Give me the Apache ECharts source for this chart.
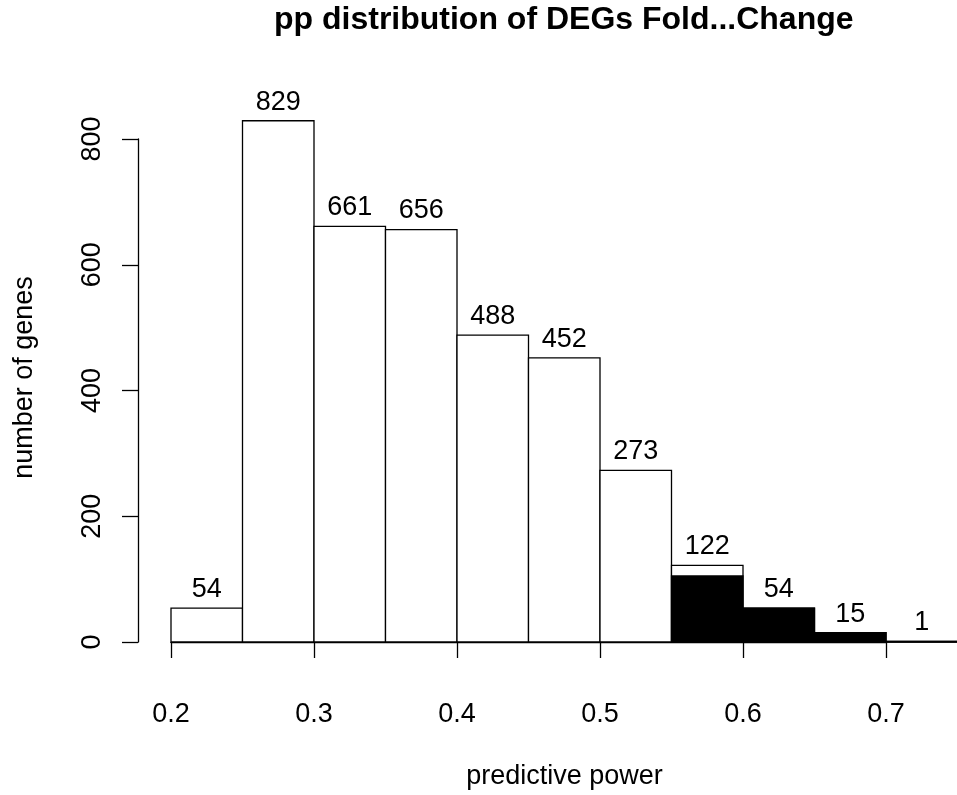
<!DOCTYPE html>
<html>
<head>
<meta charset="utf-8">
<script src="https://cdn.jsdelivr.net/npm/echarts@6/dist/echarts.min.js"></script>
<style>
  html, body { margin: 0; padding: 0; background: #fff; }
  #chart { width: 957px; height: 795px; }
</style>
</head>
<body>
<div id="chart"></div>
<script>
// histogram bins (left edges), width 0.05
const binStart = [0.2, 0.25, 0.3, 0.35, 0.4, 0.45, 0.5, 0.55, 0.6, 0.65, 0.7];
const binWidth = 0.05;
// all genes per bin
const counts = [54, 829, 661, 656, 488, 452, 273, 122, 54, 15, 1];
// filled (black) part per bin
const filled = [0, 0, 0, 0, 0, 0, 0, 105, 54, 15, 1];
const xTicks = [0.2, 0.3, 0.4, 0.5, 0.6, 0.7];
const yTicks = [0, 200, 400, 600, 800];

const FONT = '"Liberation Sans", Arial, Helvetica, sans-serif';
const FS = 27;

const chart = echarts.init(document.getElementById('chart'), null, { renderer: 'canvas' });

const rows = binStart.map((x, i) => [x, x + binWidth, counts[i], filled[i]]);

function renderBin(params, api) {
  const x0 = api.value(0), x1 = api.value(1);
  const total = api.value(2), black = api.value(3);
  const p0 = api.coord([x0, 0]);
  const pt = api.coord([x1, total]);
  const pb = api.coord([x1, black]);
  const children = [{
    type: 'rect',
    shape: { x: p0[0], y: pt[1], width: pt[0] - p0[0], height: p0[1] - pt[1] },
    style: { fill: '#fff', stroke: '#000', lineWidth: 1.3 }
  }];
  if (black > 0) {
    children.push({
      type: 'rect',
      shape: { x: p0[0], y: pb[1], width: pb[0] - p0[0], height: p0[1] - pb[1] },
      style: { fill: '#000', stroke: '#000', lineWidth: 1.3 }
    });
  }
  children.push({
    type: 'text',
    x: (p0[0] + pt[0]) / 2,
    y: pt[1] - 5,
    style: {
      text: String(total), fill: '#000', font: FS + 'px ' + FONT,
      align: 'center', verticalAlign: 'bottom'
    }
  });
  return { type: 'group', children };
}

chart.setOption({
  animation: false,
  backgroundColor: '#fff',
  title: {
    text: 'pp distribution of DEGs Fold...Change',
    left: 274,
    top: 4,
    padding: 0,
    textStyle: { fontFamily: FONT, fontSize: 32, fontWeight: 'bold', color: '#000' }
  },
  grid: { left: 171, right: 71, top: 139, bottom: 153 },
  xAxis: {
    type: 'value',
    min: xTicks[0], max: xTicks[xTicks.length - 1], interval: 0.1,
    offset: 21,
    name: 'predictive power',
    nameLocation: 'middle',
    nameGap: 100,
    nameTextStyle: { fontFamily: FONT, fontSize: FS, color: '#000', padding: [0, 0, 0, 72] },
    axisLine: { lineStyle: { color: '#000', width: 1.3 } },
    axisTick: { length: 16, lineStyle: { color: '#000', width: 1.3 } },
    axisLabel: { fontFamily: FONT, fontSize: FS, color: '#000', margin: 38 },
    splitLine: { show: false }
  },
  yAxis: {
    type: 'value',
    min: yTicks[0], max: yTicks[yTicks.length - 1], interval: 200,
    offset: 33,
    name: 'number of genes',
    nameLocation: 'middle',
    nameRotate: 90,
    nameGap: 100,
    nameTextStyle: { fontFamily: FONT, fontSize: FS, color: '#000', padding: [0, 0, 0, 26] },
    axisLine: { show: true, lineStyle: { color: '#000', width: 1.3 } },
    axisTick: { show: true, length: 16, lineStyle: { color: '#000', width: 1.3 } },
    axisLabel: { fontFamily: FONT, fontSize: FS, color: '#000', rotate: 90, margin: 32 },
    splitLine: { show: false }
  },
  series: [{
    type: 'custom',
    clip: false,
    renderItem: renderBin,
    encode: { x: [0, 1], y: 2 },
    data: rows
  }]
});
</script>
</body>
</html>
